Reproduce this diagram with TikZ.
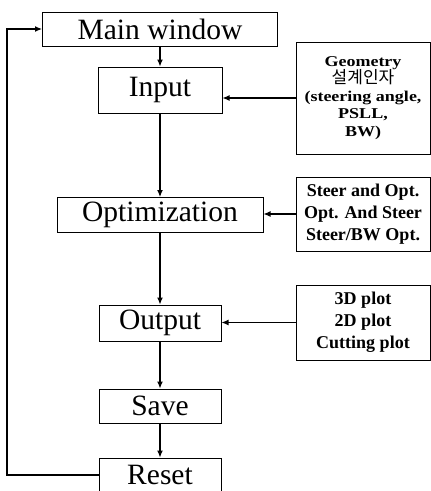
\documentclass[tikz,border=0pt]{standalone}
\usepackage{fontspec}
\setmainfont{Liberation Serif}
\newfontfamily\widefont[FakeStretch=1.2]{Liberation Serif}
\newfontfamily\kofont{Noto Sans CJK KR}
\usetikzlibrary{arrows.meta}
\begin{document}
\begin{tikzpicture}[x=1pt,y=1pt,
  stage/.style={draw, line width=1pt, inner sep=0pt, font=\fontsize{29.5}{30}\selectfont},
  side/.style={draw, line width=1pt, inner sep=0pt, minimum width=134pt, align=center, font=\bfseries\fontsize{18}{22}\selectfont},
  flow/.style={line width=1.2pt, -{Latex[length=7pt,width=6pt]}}]
\useasboundingbox (0,0) rectangle (431,-491);
\node[stage, minimum width=235pt, minimum height=34pt] (main) at (160,-29){Main window};
\node[stage, minimum width=124pt, minimum height=46pt] (input) at (160,-90){Input};
\node[stage, minimum width=206pt, minimum height=35pt] (optim) at (160,-215){Optimization};
\node[stage, minimum width=122pt, minimum height=36pt] (output) at (160,-323){Output};
\node[stage, minimum width=122pt, minimum height=34pt] (save) at (160,-406){Save};
\node[stage, minimum width=122pt, minimum height=34pt] (reset) at (160,-475){Reset};
\draw[flow](main) -- (input);
\draw[flow](input) -- (optim);
\draw[flow](optim) -- (output);
\draw[flow](output) -- (save);
\draw[flow](save) -- (reset);
\coordinate (loop) at (7,-475);
\draw[flow](reset.west) -- (loop) |- (main.west);

\node[side, minimum height=112pt, font=\widefont\bfseries\fontsize{15}{17.5}\selectfont] (geom) at (363,-98){Geometry\\{\kofont\mdseries\fontsize{17}{17.5}\selectfont 설계인자}\\(steering angle,\\PSLL,\\BW)};
\node[side, minimum height=74pt] (steer) at (363,-214){Steer and Opt.\\Opt. And Steer\\Steer/BW Opt.};
\node[side, minimum height=75pt] (plots) at (363,-322.5){3D plot\\2D plot\\Cutting plot};
\draw[flow](geom.west) -- (input.east |- geom.west);
\draw[flow](steer.west) -- (optim.east |- steer.west);
\draw[flow](plots.west) -- (output.east |- plots.west);

\end{tikzpicture}
\end{document}
